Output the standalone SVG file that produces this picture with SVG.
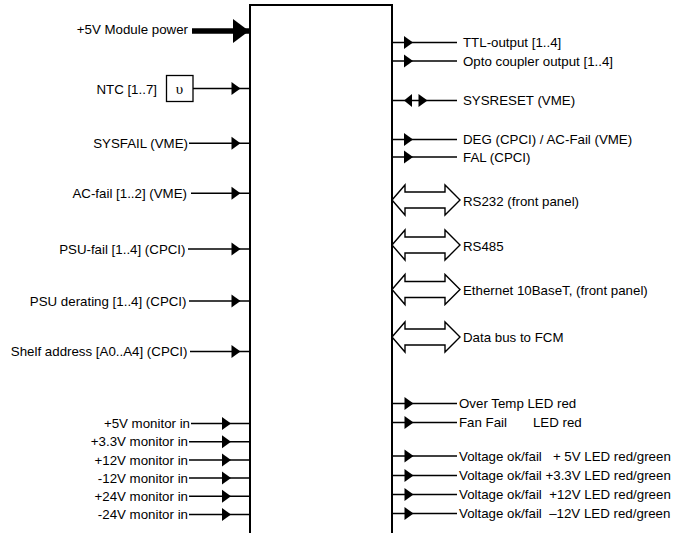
<svg xmlns="http://www.w3.org/2000/svg" xmlns:xlink="http://www.w3.org/1999/xlink" width="693" height="533" viewBox="0 0 693 533">
<style>
text{font-family:"Liberation Sans",Arial,sans-serif;font-size:13.3px;fill:#000;white-space:pre}
.l{text-anchor:end}
.w{stroke:#000;stroke-width:1.5;fill:none}
.ah{fill:#000;stroke:none}
.bus{fill:#fff;stroke:#000;stroke-width:1.4;stroke-linejoin:miter}
</style>
<defs>
<path id="ar" d="M0,-6.5 L9,0 L0,6.5 Z"/>
<path id="al" d="M0,-6.5 L-8,0 L0,6.5 Z"/>
<path id="ab" d="M0,-12 L16,0 L0,12 Z"/>
<path id="bus" d="M0,0 L13,-15 L13,-8 L53,-8 L53,-15 L68,0 L53,15 L53,8 L13,8 L13,15 Z"/>
</defs>
<rect width="693" height="533" fill="#fff"/>

<g id="module">
<rect x="250" y="5" width="142" height="545" fill="#fff" stroke="#000" stroke-width="2"/>
</g>

<g id="ntc-sensor">
<rect x="166.5" y="75.5" width="26.5" height="26" fill="#fff" stroke="#000" stroke-width="1.3"/>
<text x="179.5" y="93.5" style="font-family:'Liberation Serif','DejaVu Serif',serif;font-size:15px;text-anchor:middle">υ</text>
</g>

<g id="inputs">
<text class="l" x="188" y="33.5">+5V Module power</text>
<text class="l" x="157" y="93.5">NTC [1..7]</text>
<text class="l" x="188" y="148">SYSFAIL (VME)</text>
<text class="l" x="187" y="198">AC-fail [1..2] (VME)</text>
<text class="l" x="185.5" y="253.7">PSU-fail [1..4] (CPCI)</text>
<text class="l" x="186.5" y="305.7">PSU derating [1..4] (CPCI)</text>
<text class="l" x="187.5" y="356.2">Shelf address [A0..A4] (CPCI)</text>
<text class="l" x="190" y="428.2">+5V monitor in</text>
<text class="l" x="188" y="446.4">+3.3V monitor in</text>
<text class="l" x="188" y="464.6">+12V monitor in</text>
<text class="l" x="188" y="482.8">-12V monitor in</text>
<text class="l" x="188" y="501">+24V monitor in</text>
<text class="l" x="188" y="519.2">-24V monitor in</text>
</g>

<g id="outputs">
<text x="463" y="47.2">TTL-output [1..4]</text>
<text x="463" y="65.7">Opto coupler output [1..4]</text>
<text x="463" y="105.2">SYSRESET (VME)</text>
<text x="463" y="144.2">DEG (CPCI) / AC-Fail (VME)</text>
<text x="463" y="161.7">FAL (CPCI)</text>
<text x="463" y="206">RS232 (front panel)</text>
<text x="463" y="250.5">RS485</text>
<text x="463" y="294.5">Ethernet 10BaseT, (front panel)</text>
<text x="463" y="342">Data bus to FCM</text>
<text x="459" y="408.2">Over Temp LED red</text>
<text x="459" y="427.2">Fan Fail       LED red</text>
<text x="459" y="460.7">Voltage ok/fail   + 5V LED red/green</text>
<text x="459" y="480.2">Voltage ok/fail +3.3V LED red/green</text>
<text x="459" y="499.2">Voltage ok/fail  +12V LED red/green</text>
<text x="459" y="518.2">Voltage ok/fail  –12V LED red/green</text>
</g>

<g id="connectors">
<line x1="192" y1="31" x2="250" y2="31" stroke="#000" stroke-width="5.5"/>
<use href="#ab" x="233" y="31" class="ah"/>
<line class="w" x1="193" y1="88.5" x2="250" y2="88.5"/>
<use href="#ar" x="231.5" y="88.5" class="ah"/>
<line class="w" x1="189" y1="143.3" x2="250" y2="143.3"/>
<use href="#ar" x="231.5" y="143.3" class="ah"/>
<line class="w" x1="191" y1="193.3" x2="250" y2="193.3"/>
<use href="#ar" x="231.5" y="193.3" class="ah"/>
<line class="w" x1="188" y1="249" x2="250" y2="249"/>
<use href="#ar" x="231.5" y="249" class="ah"/>
<line class="w" x1="189" y1="301" x2="250" y2="301"/>
<use href="#ar" x="231.5" y="301" class="ah"/>
<line class="w" x1="190" y1="351.5" x2="250" y2="351.5"/>
<use href="#ar" x="231.5" y="351.5" class="ah"/>

<line class="w" x1="191" y1="423.5" x2="250" y2="423.5"/>
<use href="#ar" x="222" y="423.5" class="ah"/>
<line class="w" x1="189" y1="441.7" x2="250" y2="441.7"/>
<use href="#ar" x="222" y="441.7" class="ah"/>
<line class="w" x1="189" y1="459.9" x2="250" y2="459.9"/>
<use href="#ar" x="222" y="459.9" class="ah"/>
<line class="w" x1="189" y1="478.1" x2="250" y2="478.1"/>
<use href="#ar" x="222" y="478.1" class="ah"/>
<line class="w" x1="189" y1="496.3" x2="250" y2="496.3"/>
<use href="#ar" x="222" y="496.3" class="ah"/>
<line class="w" x1="189" y1="514.5" x2="250" y2="514.5"/>
<use href="#ar" x="222" y="514.5" class="ah"/>

<line class="w" x1="392" y1="42.5" x2="457" y2="42.5"/>
<use href="#ar" x="404" y="42.5" class="ah"/>
<line class="w" x1="392" y1="61" x2="457" y2="61"/>
<use href="#ar" x="404" y="61" class="ah"/>
<line class="w" x1="392" y1="100.5" x2="457" y2="100.5"/>
<use href="#al" x="412" y="100.5" class="ah"/>
<use href="#ar" x="418.5" y="100.5" class="ah"/>
<line class="w" x1="392" y1="139.5" x2="457" y2="139.5"/>
<use href="#ar" x="404" y="139.5" class="ah"/>
<line class="w" x1="392" y1="157" x2="457" y2="157"/>
<use href="#ar" x="404" y="157" class="ah"/>

<use href="#bus" x="392" y="200" class="bus"/>
<use href="#bus" x="392" y="245" class="bus"/>
<use href="#bus" x="392" y="289.5" class="bus"/>
<use href="#bus" x="392" y="337" class="bus"/>

<line class="w" x1="392" y1="403.5" x2="457" y2="403.5"/>
<use href="#ar" x="404.5" y="403.5" class="ah"/>
<line class="w" x1="392" y1="422.5" x2="457" y2="422.5"/>
<use href="#ar" x="404.5" y="422.5" class="ah"/>
<line class="w" x1="392" y1="456" x2="457" y2="456"/>
<use href="#ar" x="404.5" y="456" class="ah"/>
<line class="w" x1="392" y1="475.5" x2="457" y2="475.5"/>
<use href="#ar" x="404.5" y="475.5" class="ah"/>
<line class="w" x1="392" y1="494.5" x2="457" y2="494.5"/>
<use href="#ar" x="404.5" y="494.5" class="ah"/>
<line class="w" x1="392" y1="513.5" x2="457" y2="513.5"/>
<use href="#ar" x="404.5" y="513.5" class="ah"/>
</g>
</svg>
